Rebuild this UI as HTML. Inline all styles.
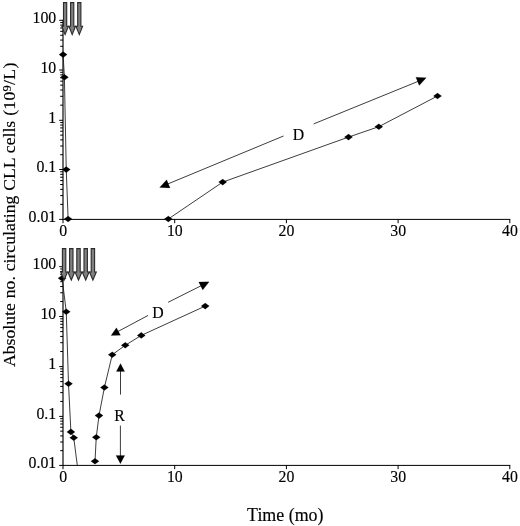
<!DOCTYPE html>
<html><head><meta charset="utf-8"><title>Figure</title>
<style>html,body{margin:0;padding:0;background:#fff}body{width:520px;height:526px;overflow:hidden}</style>
</head><body>
<svg width="520" height="526" viewBox="0 0 520 526" style="display:block">
<rect width="520" height="526" fill="#fff"/>
<g font-family="'Liberation Serif', serif" fill="#000" stroke="#000" stroke-width="0.15">
<line x1="63.0" y1="19.8" x2="63.0" y2="219.4" stroke="#000" stroke-width="1.15"/>
<line x1="63.0" y1="219.4" x2="510.3" y2="219.4" stroke="#000" stroke-width="1"/>
<line x1="59.2" y1="20.30" x2="63.0" y2="20.30" stroke="#000" stroke-width="1"/>
<text x="56.2" y="22.80" font-size="15.8" text-anchor="end">100</text>
<line x1="59.2" y1="70.00" x2="63.0" y2="70.00" stroke="#000" stroke-width="1"/>
<text x="56.2" y="72.50" font-size="15.8" text-anchor="end">10</text>
<line x1="59.2" y1="120.30" x2="63.0" y2="120.30" stroke="#000" stroke-width="1"/>
<text x="56.2" y="122.80" font-size="15.8" text-anchor="end">1</text>
<line x1="59.2" y1="169.50" x2="63.0" y2="169.50" stroke="#000" stroke-width="1"/>
<text x="56.2" y="172.00" font-size="15.8" text-anchor="end">0.1</text>
<line x1="59.2" y1="219.40" x2="63.0" y2="219.40" stroke="#000" stroke-width="1"/>
<text x="56.2" y="221.90" font-size="15.8" text-anchor="end">0.01</text>
<line x1="60.2" y1="55.04" x2="63.0" y2="55.04" stroke="#000" stroke-width="1"/>
<line x1="60.2" y1="46.29" x2="63.0" y2="46.29" stroke="#000" stroke-width="1"/>
<line x1="60.2" y1="40.08" x2="63.0" y2="40.08" stroke="#000" stroke-width="1"/>
<line x1="60.2" y1="35.26" x2="63.0" y2="35.26" stroke="#000" stroke-width="1"/>
<line x1="60.2" y1="31.33" x2="63.0" y2="31.33" stroke="#000" stroke-width="1"/>
<line x1="60.2" y1="28.00" x2="63.0" y2="28.00" stroke="#000" stroke-width="1"/>
<line x1="60.2" y1="25.12" x2="63.0" y2="25.12" stroke="#000" stroke-width="1"/>
<line x1="60.2" y1="22.57" x2="63.0" y2="22.57" stroke="#000" stroke-width="1"/>
<line x1="60.2" y1="105.16" x2="63.0" y2="105.16" stroke="#000" stroke-width="1"/>
<line x1="60.2" y1="96.30" x2="63.0" y2="96.30" stroke="#000" stroke-width="1"/>
<line x1="60.2" y1="90.02" x2="63.0" y2="90.02" stroke="#000" stroke-width="1"/>
<line x1="60.2" y1="85.14" x2="63.0" y2="85.14" stroke="#000" stroke-width="1"/>
<line x1="60.2" y1="81.16" x2="63.0" y2="81.16" stroke="#000" stroke-width="1"/>
<line x1="60.2" y1="77.79" x2="63.0" y2="77.79" stroke="#000" stroke-width="1"/>
<line x1="60.2" y1="74.87" x2="63.0" y2="74.87" stroke="#000" stroke-width="1"/>
<line x1="60.2" y1="72.30" x2="63.0" y2="72.30" stroke="#000" stroke-width="1"/>
<line x1="60.2" y1="154.69" x2="63.0" y2="154.69" stroke="#000" stroke-width="1"/>
<line x1="60.2" y1="146.03" x2="63.0" y2="146.03" stroke="#000" stroke-width="1"/>
<line x1="60.2" y1="139.88" x2="63.0" y2="139.88" stroke="#000" stroke-width="1"/>
<line x1="60.2" y1="135.11" x2="63.0" y2="135.11" stroke="#000" stroke-width="1"/>
<line x1="60.2" y1="131.21" x2="63.0" y2="131.21" stroke="#000" stroke-width="1"/>
<line x1="60.2" y1="127.92" x2="63.0" y2="127.92" stroke="#000" stroke-width="1"/>
<line x1="60.2" y1="125.07" x2="63.0" y2="125.07" stroke="#000" stroke-width="1"/>
<line x1="60.2" y1="122.55" x2="63.0" y2="122.55" stroke="#000" stroke-width="1"/>
<line x1="60.2" y1="204.38" x2="63.0" y2="204.38" stroke="#000" stroke-width="1"/>
<line x1="60.2" y1="195.59" x2="63.0" y2="195.59" stroke="#000" stroke-width="1"/>
<line x1="60.2" y1="189.36" x2="63.0" y2="189.36" stroke="#000" stroke-width="1"/>
<line x1="60.2" y1="184.52" x2="63.0" y2="184.52" stroke="#000" stroke-width="1"/>
<line x1="60.2" y1="180.57" x2="63.0" y2="180.57" stroke="#000" stroke-width="1"/>
<line x1="60.2" y1="177.23" x2="63.0" y2="177.23" stroke="#000" stroke-width="1"/>
<line x1="60.2" y1="174.34" x2="63.0" y2="174.34" stroke="#000" stroke-width="1"/>
<line x1="60.2" y1="171.78" x2="63.0" y2="171.78" stroke="#000" stroke-width="1"/>
<line x1="63.00" y1="219.4" x2="63.00" y2="223.20000000000002" stroke="#000" stroke-width="1"/>
<line x1="174.70" y1="219.4" x2="174.70" y2="223.20000000000002" stroke="#000" stroke-width="1"/>
<line x1="286.40" y1="219.4" x2="286.40" y2="223.20000000000002" stroke="#000" stroke-width="1"/>
<line x1="398.10" y1="219.4" x2="398.10" y2="223.20000000000002" stroke="#000" stroke-width="1"/>
<line x1="509.80" y1="219.4" x2="509.80" y2="223.20000000000002" stroke="#000" stroke-width="1"/>
<text x="63.10" y="235.90" font-size="15.8" text-anchor="middle">0</text>
<text x="174.80" y="235.90" font-size="15.8" text-anchor="middle">10</text>
<text x="286.50" y="235.90" font-size="15.8" text-anchor="middle">20</text>
<text x="398.20" y="235.90" font-size="15.8" text-anchor="middle">30</text>
<text x="509.90" y="235.90" font-size="15.8" text-anchor="middle">40</text>
<polyline points="63.10,54.60 64.40,77.25 66.25,169.60 68.10,219.00" fill="none" stroke="#1a1a1a" stroke-width="0.85"/>
<polyline points="168.30,219.00 222.70,182.10 348.50,137.10 378.80,126.70 437.50,96.00" fill="none" stroke="#1a1a1a" stroke-width="0.85"/>
<path d="M59.00 54.60L63.10 51.55L67.20 54.60L63.10 57.65Z" fill="#000"/>
<path d="M60.30 77.25L64.40 74.20L68.50 77.25L64.40 80.30Z" fill="#000"/>
<path d="M62.15 169.60L66.25 166.55L70.35 169.60L66.25 172.65Z" fill="#000"/>
<path d="M64.00 219.00L68.10 215.95L72.20 219.00L68.10 222.05Z" fill="#000"/>
<path d="M164.20 219.00L168.30 215.95L172.40 219.00L168.30 222.05Z" fill="#000"/>
<path d="M218.60 182.10L222.70 179.05L226.80 182.10L222.70 185.15Z" fill="#000"/>
<path d="M344.40 137.10L348.50 134.05L352.60 137.10L348.50 140.15Z" fill="#000"/>
<path d="M374.70 126.70L378.80 123.65L382.90 126.70L378.80 129.75Z" fill="#000"/>
<path d="M433.40 96.00L437.50 92.95L441.60 96.00L437.50 99.05Z" fill="#000"/>
<path d="M63.50 2.6L66.70 2.6L66.70 26.3L68.40 26.3L65.10 34.6L61.80 26.3L63.50 26.3Z" fill="#808080" stroke="#2a2a2a" stroke-width="1.1" stroke-linejoin="miter"/>
<path d="M70.60 2.6L73.80 2.6L73.80 26.3L75.50 26.3L72.20 34.6L68.90 26.3L70.60 26.3Z" fill="#808080" stroke="#2a2a2a" stroke-width="1.1" stroke-linejoin="miter"/>
<path d="M77.70 2.6L80.90 2.6L80.90 26.3L82.60 26.3L79.30 34.6L76.00 26.3L77.70 26.3Z" fill="#808080" stroke="#2a2a2a" stroke-width="1.1" stroke-linejoin="miter"/>
<line x1="167.00" y1="184.30" x2="283.50" y2="136.00" stroke="#1a1a1a" stroke-width="0.85"/>
<line x1="313.70" y1="123.90" x2="419.00" y2="81.00" stroke="#1a1a1a" stroke-width="0.85"/>
<path d="M159.60 187.50L166.68 179.79L170.06 187.92Z" fill="#000"/>
<path d="M426.30 77.70L419.18 85.38L415.84 77.24Z" fill="#000"/>
<text x="298.5" y="139.8" font-size="15.8" text-anchor="middle">D</text>
<line x1="63.0" y1="266.2" x2="63.0" y2="465.4" stroke="#000" stroke-width="1.15"/>
<line x1="63.0" y1="465.4" x2="510.3" y2="465.4" stroke="#000" stroke-width="1"/>
<line x1="59.2" y1="266.70" x2="63.0" y2="266.70" stroke="#000" stroke-width="1"/>
<text x="56.2" y="269.20" font-size="15.8" text-anchor="end">100</text>
<line x1="59.2" y1="316.50" x2="63.0" y2="316.50" stroke="#000" stroke-width="1"/>
<text x="56.2" y="319.00" font-size="15.8" text-anchor="end">10</text>
<line x1="59.2" y1="366.60" x2="63.0" y2="366.60" stroke="#000" stroke-width="1"/>
<text x="56.2" y="369.10" font-size="15.8" text-anchor="end">1</text>
<line x1="59.2" y1="416.40" x2="63.0" y2="416.40" stroke="#000" stroke-width="1"/>
<text x="56.2" y="418.90" font-size="15.8" text-anchor="end">0.1</text>
<line x1="59.2" y1="465.40" x2="63.0" y2="465.40" stroke="#000" stroke-width="1"/>
<text x="56.2" y="467.90" font-size="15.8" text-anchor="end">0.01</text>
<line x1="60.2" y1="301.51" x2="63.0" y2="301.51" stroke="#000" stroke-width="1"/>
<line x1="60.2" y1="292.74" x2="63.0" y2="292.74" stroke="#000" stroke-width="1"/>
<line x1="60.2" y1="286.52" x2="63.0" y2="286.52" stroke="#000" stroke-width="1"/>
<line x1="60.2" y1="281.69" x2="63.0" y2="281.69" stroke="#000" stroke-width="1"/>
<line x1="60.2" y1="277.75" x2="63.0" y2="277.75" stroke="#000" stroke-width="1"/>
<line x1="60.2" y1="274.41" x2="63.0" y2="274.41" stroke="#000" stroke-width="1"/>
<line x1="60.2" y1="271.53" x2="63.0" y2="271.53" stroke="#000" stroke-width="1"/>
<line x1="60.2" y1="268.98" x2="63.0" y2="268.98" stroke="#000" stroke-width="1"/>
<line x1="60.2" y1="351.52" x2="63.0" y2="351.52" stroke="#000" stroke-width="1"/>
<line x1="60.2" y1="342.70" x2="63.0" y2="342.70" stroke="#000" stroke-width="1"/>
<line x1="60.2" y1="336.44" x2="63.0" y2="336.44" stroke="#000" stroke-width="1"/>
<line x1="60.2" y1="331.58" x2="63.0" y2="331.58" stroke="#000" stroke-width="1"/>
<line x1="60.2" y1="327.61" x2="63.0" y2="327.61" stroke="#000" stroke-width="1"/>
<line x1="60.2" y1="324.26" x2="63.0" y2="324.26" stroke="#000" stroke-width="1"/>
<line x1="60.2" y1="321.36" x2="63.0" y2="321.36" stroke="#000" stroke-width="1"/>
<line x1="60.2" y1="318.79" x2="63.0" y2="318.79" stroke="#000" stroke-width="1"/>
<line x1="60.2" y1="401.41" x2="63.0" y2="401.41" stroke="#000" stroke-width="1"/>
<line x1="60.2" y1="392.64" x2="63.0" y2="392.64" stroke="#000" stroke-width="1"/>
<line x1="60.2" y1="386.42" x2="63.0" y2="386.42" stroke="#000" stroke-width="1"/>
<line x1="60.2" y1="381.59" x2="63.0" y2="381.59" stroke="#000" stroke-width="1"/>
<line x1="60.2" y1="377.65" x2="63.0" y2="377.65" stroke="#000" stroke-width="1"/>
<line x1="60.2" y1="374.31" x2="63.0" y2="374.31" stroke="#000" stroke-width="1"/>
<line x1="60.2" y1="371.43" x2="63.0" y2="371.43" stroke="#000" stroke-width="1"/>
<line x1="60.2" y1="368.88" x2="63.0" y2="368.88" stroke="#000" stroke-width="1"/>
<line x1="60.2" y1="450.65" x2="63.0" y2="450.65" stroke="#000" stroke-width="1"/>
<line x1="60.2" y1="442.02" x2="63.0" y2="442.02" stroke="#000" stroke-width="1"/>
<line x1="60.2" y1="435.90" x2="63.0" y2="435.90" stroke="#000" stroke-width="1"/>
<line x1="60.2" y1="431.15" x2="63.0" y2="431.15" stroke="#000" stroke-width="1"/>
<line x1="60.2" y1="427.27" x2="63.0" y2="427.27" stroke="#000" stroke-width="1"/>
<line x1="60.2" y1="423.99" x2="63.0" y2="423.99" stroke="#000" stroke-width="1"/>
<line x1="60.2" y1="421.15" x2="63.0" y2="421.15" stroke="#000" stroke-width="1"/>
<line x1="60.2" y1="418.64" x2="63.0" y2="418.64" stroke="#000" stroke-width="1"/>
<line x1="63.00" y1="465.4" x2="63.00" y2="469.2" stroke="#000" stroke-width="1"/>
<line x1="174.70" y1="465.4" x2="174.70" y2="469.2" stroke="#000" stroke-width="1"/>
<line x1="286.40" y1="465.4" x2="286.40" y2="469.2" stroke="#000" stroke-width="1"/>
<line x1="398.10" y1="465.4" x2="398.10" y2="469.2" stroke="#000" stroke-width="1"/>
<line x1="509.80" y1="465.4" x2="509.80" y2="469.2" stroke="#000" stroke-width="1"/>
<text x="63.10" y="481.90" font-size="15.8" text-anchor="middle">0</text>
<text x="174.80" y="481.90" font-size="15.8" text-anchor="middle">10</text>
<text x="286.50" y="481.90" font-size="15.8" text-anchor="middle">20</text>
<text x="398.20" y="481.90" font-size="15.8" text-anchor="middle">30</text>
<text x="509.90" y="481.90" font-size="15.8" text-anchor="middle">40</text>
<polyline points="62.10,278.20 66.25,311.70 68.50,383.75 70.90,431.90 73.75,437.75 77.25,465.00" fill="none" stroke="#1a1a1a" stroke-width="0.85"/>
<polyline points="95.00,461.25 96.25,437.25 99.00,415.60 104.40,387.50 112.25,354.70 125.25,345.30 141.25,335.40 205.20,306.10" fill="none" stroke="#1a1a1a" stroke-width="0.85"/>
<path d="M58.00 278.20L62.10 275.15L66.20 278.20L62.10 281.25Z" fill="#000"/>
<path d="M62.15 311.70L66.25 308.65L70.35 311.70L66.25 314.75Z" fill="#000"/>
<path d="M64.40 383.75L68.50 380.70L72.60 383.75L68.50 386.80Z" fill="#000"/>
<path d="M66.80 431.90L70.90 428.85L75.00 431.90L70.90 434.95Z" fill="#000"/>
<path d="M69.65 437.75L73.75 434.70L77.85 437.75L73.75 440.80Z" fill="#000"/>
<path d="M90.90 461.25L95.00 458.20L99.10 461.25L95.00 464.30Z" fill="#000"/>
<path d="M92.15 437.25L96.25 434.20L100.35 437.25L96.25 440.30Z" fill="#000"/>
<path d="M94.90 415.60L99.00 412.55L103.10 415.60L99.00 418.65Z" fill="#000"/>
<path d="M100.30 387.50L104.40 384.45L108.50 387.50L104.40 390.55Z" fill="#000"/>
<path d="M108.15 354.70L112.25 351.65L116.35 354.70L112.25 357.75Z" fill="#000"/>
<path d="M121.15 345.30L125.25 342.25L129.35 345.30L125.25 348.35Z" fill="#000"/>
<path d="M137.15 335.40L141.25 332.35L145.35 335.40L141.25 338.45Z" fill="#000"/>
<path d="M201.10 306.10L205.20 303.05L209.30 306.10L205.20 309.15Z" fill="#000"/>
<path d="M62.40 248.6L65.80 248.6L65.80 272L67.50 272L64.10 280.0L60.70 272L62.40 272Z" fill="#808080" stroke="#2a2a2a" stroke-width="1.1" stroke-linejoin="miter"/>
<path d="M69.60 248.6L73.00 248.6L73.00 272L74.70 272L71.30 280.0L67.90 272L69.60 272Z" fill="#808080" stroke="#2a2a2a" stroke-width="1.1" stroke-linejoin="miter"/>
<path d="M76.80 248.6L80.20 248.6L80.20 272L81.90 272L78.50 280.0L75.10 272L76.80 272Z" fill="#808080" stroke="#2a2a2a" stroke-width="1.1" stroke-linejoin="miter"/>
<path d="M84.00 248.6L87.40 248.6L87.40 272L89.10 272L85.70 280.0L82.30 272L84.00 272Z" fill="#808080" stroke="#2a2a2a" stroke-width="1.1" stroke-linejoin="miter"/>
<path d="M91.20 248.6L94.60 248.6L94.60 272L96.30 272L92.90 280.0L89.50 272L91.20 272Z" fill="#808080" stroke="#2a2a2a" stroke-width="1.1" stroke-linejoin="miter"/>
<line x1="117.00" y1="332.00" x2="148.10" y2="315.40" stroke="#1a1a1a" stroke-width="0.85"/>
<line x1="168.10" y1="302.30" x2="203.00" y2="284.80" stroke="#1a1a1a" stroke-width="0.85"/>
<path d="M111.00 335.50L116.45 327.71L120.50 335.19Z" fill="#000"/>
<path d="M209.20 281.80L202.71 290.07L198.69 282.01Z" fill="#000"/>
<text x="158" y="317.5" font-size="15.8" text-anchor="middle">D</text>
<line x1="120.50" y1="370.80" x2="120.50" y2="394.60" stroke="#1a1a1a" stroke-width="0.85"/>
<path d="M120.50 363.40L124.70 371.40L116.30 371.40Z" fill="#000"/>
<line x1="120.40" y1="425.60" x2="120.40" y2="456.00" stroke="#1a1a1a" stroke-width="0.85"/>
<path d="M120.40 463.80L116.00 455.40L124.80 455.40Z" fill="#000"/>
<text x="119.6" y="420.6" font-size="15.8" text-anchor="middle">R</text>
<text x="285.3" y="521.2" font-size="17.9" stroke-width="0.15" text-anchor="middle">Time (mo)</text>
<text transform="translate(15.2,367.0) rotate(-90)" font-size="17.7" stroke-width="0.15" word-spacing="0.45">Absolute no. circulating CLL cells <tspan letter-spacing="0.3">(10</tspan><tspan font-size="12.4" dy="-4.6" letter-spacing="0.3">9</tspan><tspan dy="4.6" letter-spacing="0.3">/L)</tspan></text>
</g></svg>
</body></html>
